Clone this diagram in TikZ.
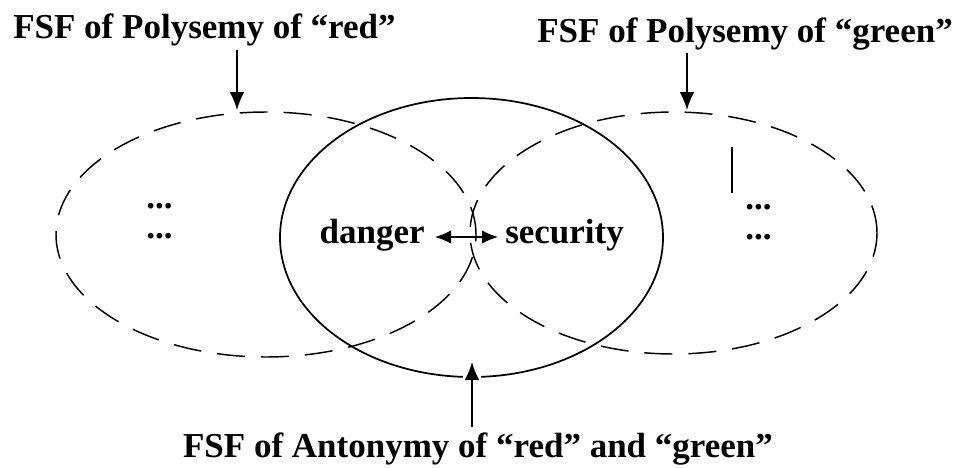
\documentclass[tikz,border=0pt]{standalone}
\usepackage{fontspec}
\setmainfont{Liberation Serif}
\usetikzlibrary{shapes.geometric,arrows.meta}
\begin{document}
\begin{tikzpicture}[x=0.75pt,y=-0.75pt,
  lbl/.style={inner sep=0pt, font=\bfseries\fontsize{26.25}{30}\selectfont},
  dots/.style={inner sep=0pt, align=left, font=\bfseries\fontsize{26.25}{22.5}\selectfont},
  dashell/.style={ellipse, draw, dash pattern=on 21pt off 12pt, line width=1.1pt, inner sep=0pt},
  solidell/.style={ellipse, draw, line width=1.3pt, inner sep=0pt},
  arr/.style={line width=1.1pt, -{Latex[length=13.5pt,width=11pt]}},
  carr/.style={line width=0.9pt, {Latex[length=12pt,width=10pt]}-{Latex[length=12pt,width=10pt]}},
  ]
\useasboundingbox (0,0) rectangle (958,468);
% sets
\node[dashell, minimum width=315pt, minimum height=183.75pt] (red) at (266,234.5) {};
\node[dashell, minimum width=305.25pt, minimum height=181.5pt] (green) at (673.5,233) {};
\node[solidell, minimum width=287.25pt, minimum height=209.25pt] (anto) at (471.5,237.5) {};
% labels
\node[lbl, anchor=base west] (lred) at (13,38) {FSF of Polysemy of “red”};
\node[lbl, anchor=base east] (lgreen) at (953,42) {FSF of Polysemy of “green”};
\node[lbl, anchor=base] (lanto) at (478,457) {FSF of Antonymy of “red” and “green”};
\node[lbl, anchor=base east] (danger) at (425,243) {danger};
\node[lbl, anchor=base west] (security) at (505,243) {security};
\node[dots, anchor=south west] (dl) at (146,239) {...\\...};
\node[dots, anchor=south west] (dr) at (745,240) {...\\...};
% arrow targets
\coordinate (tR) at (237,110);
\coordinate (tG) at (687,110);
\coordinate (tA) at (472,362);
\coordinate (v1) at (732,147);
\coordinate (v2) at (732,193);
% connectors
\draw[arr, shorten <=3pt] (tR |- lred.south) -- (tR);
\draw[arr, shorten <=2pt] (tG |- lgreen.south) -- (tG);
\draw[arr, shorten <=4pt, preaction={draw=white, line width=14pt, arrows=-, shorten >=0pt}] (tA |- lanto.north) -- (tA);
\draw[carr, shorten <=7.5pt, shorten >=5.25pt] ([yshift=4.5pt]danger.base east) -- ([yshift=4.5pt]security.base west);
\draw[line width=0.8pt] (v1) -- (v2);
\end{tikzpicture}
\end{document}
